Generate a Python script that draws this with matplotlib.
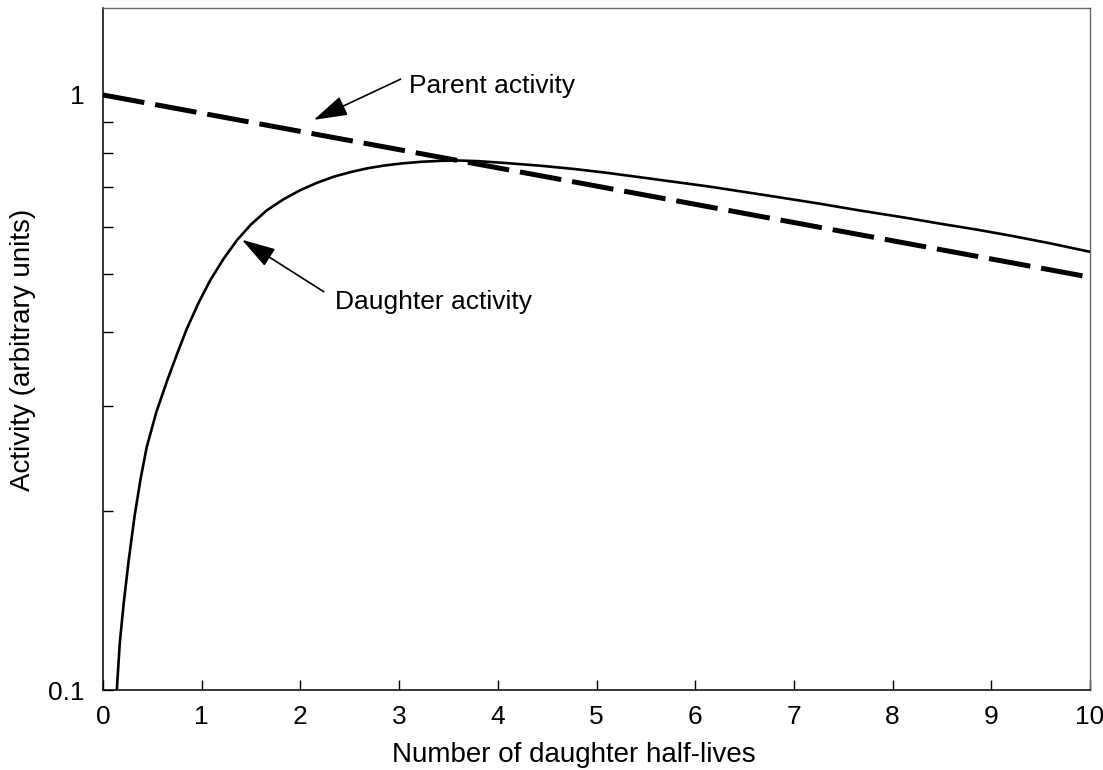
import matplotlib
matplotlib.use("Agg")
import matplotlib.pyplot as plt
from matplotlib.ticker import FixedLocator, NullFormatter

plt.rcParams['font.family'] = ['Liberation Sans', 'DejaVu Sans']

# parent activity (straight line on the log scale)
parentX = [0.0, 10.0]
parentY = [1.0, 0.494]

# daughter activity
daughterX = [0.14, 0.17, 0.21, 0.26, 0.29, 0.32, 0.38, 0.443, 0.54, 0.647, 0.75,
             0.85, 0.97, 1.086, 1.22, 1.357, 1.5, 1.66, 1.83, 2.0, 2.17, 2.34,
             2.51, 2.68, 2.85, 3.02, 3.22, 3.42, 3.6, 3.8, 4.10, 4.45, 4.77, 5.1,
             5.45, 5.8, 6.13, 6.45, 6.80, 7.25, 7.68, 8.1, 8.5, 8.85, 9.2, 9.6, 10.0]
daughterY = [0.100, 0.120, 0.140, 0.165, 0.180, 0.196, 0.226, 0.256, 0.293, 0.330, 0.367,
             0.405, 0.448, 0.488, 0.530, 0.570, 0.606, 0.640, 0.668, 0.692, 0.712, 0.729,
             0.742, 0.753, 0.761, 0.767, 0.772, 0.775, 0.776, 0.774, 0.768, 0.760, 0.751, 0.740,
             0.727, 0.714, 0.702, 0.689, 0.675, 0.657, 0.639, 0.623, 0.607, 0.594, 0.580, 0.563, 0.545]

xTicks = list(range(0, 11))
yTicks = [0.1, 1]
yTickLabels = ['0.1', '1']
yMinor = [0.2, 0.3, 0.4, 0.5, 0.6, 0.7, 0.8, 0.9]

fig = plt.figure(figsize=(11.03, 7.70), dpi=100)
ax = fig.add_axes([103 / 1103, 1 - 690 / 770, 987 / 1103, 682 / 770])

# curves
ax.plot(parentX, parentY, color='black', lw=3.6, dashes=(8.4, 2.2),
        solid_capstyle='butt', dash_capstyle='butt')
ax.plot(daughterX, daughterY, color='black', lw=1.9)

ax.set_yscale('log')
ax.set_xlim(0, 10)
ax.set_ylim(0.1, 1.40)

#--Ticks--
ax.set_xticks(xTicks)
ax.set_xticklabels([str(t) for t in xTicks])
ax.yaxis.set_major_locator(FixedLocator(yTicks))
ax.set_yticklabels(yTickLabels)
ax.yaxis.set_minor_locator(FixedLocator(yMinor))
ax.yaxis.set_minor_formatter(NullFormatter())
ax.xaxis.set_minor_locator(FixedLocator([]))

ax.tick_params(axis='x', which='major', direction='in', length=7, width=1,
               labelsize=19, pad=11, top=False)
ax.tick_params(axis='y', which='both', direction='in', length=7, width=1,
               labelsize=19, pad=13, right=False)

for side in ['left', 'bottom']:
    ax.spines[side].set_linewidth(1.1)
for side in ['top', 'right']:
    ax.spines[side].set_linewidth(1.0)
    ax.spines[side].set_color('#666666')

#--Axis titles--
xl = ax.set_xlabel("Number of daughter half-lives", fontsize=20)
xl.set_verticalalignment('center')
ax.xaxis.set_label_coords(0.477, -0.095)
yl = ax.set_ylabel("Activity (arbitrary units)", fontsize=20)
yl.set_verticalalignment('center')
ax.yaxis.set_label_coords(-0.081, 0.4985)

#--Annotations--
arrow = dict(arrowstyle='-|>,head_length=1.5,head_width=0.45', color='black',
             lw=1.2, mutation_scale=14, shrinkA=0, shrinkB=0)
ax.annotate('', xy=(2.135, 0.908), xytext=(3.015, 1.063), arrowprops=arrow)
ax.text(3.096, 1.035, "Parent activity", fontsize=19, ha='left', va='center')

ax.annotate('', xy=(1.408, 0.571), xytext=(2.237, 0.467), arrowprops=arrow)
ax.text(2.355, 0.449, "Daughter activity", fontsize=19, ha='left', va='center')

plt.savefig("out.png", dpi=100)
